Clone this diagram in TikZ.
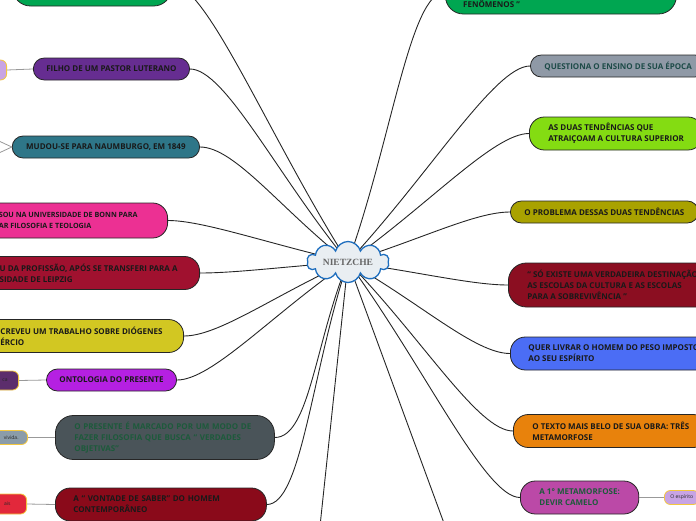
\documentclass[tikz,border=0pt]{standalone}
\usepackage{fontspec}
\setsansfont{Open Sans}
\newfontfamily\hubfont{Liberation Serif}
\usetikzlibrary{shapes.symbols,backgrounds,calc}

\definecolor{greenA}{HTML}{00A651}
\definecolor{purpleA}{HTML}{662D91}
\definecolor{tealA}{HTML}{2E7688}
\definecolor{pinkA}{HTML}{EC3093}
\definecolor{crimsonA}{HTML}{A0112F}
\definecolor{mustard}{HTML}{D2C722}
\definecolor{violetA}{HTML}{B520E2}
\definecolor{slate}{HTML}{4A5459}
\definecolor{maroon}{HTML}{8A0A1A}
\definecolor{greyA}{HTML}{8F99A6}
\definecolor{lime}{HTML}{84DC12}
\definecolor{oliveY}{HTML}{A9A200}
\definecolor{wine}{HTML}{8B0E21}
\definecolor{blueA}{HTML}{4B6DF5}
\definecolor{orangeA}{HTML}{E8820C}
\definecolor{orchidA}{HTML}{BB49A7}
\definecolor{lilac}{HTML}{C8A4E4}
\definecolor{plumA}{HTML}{5C2D6C}
\definecolor{steel}{HTML}{8B9CA9}
\definecolor{redA}{HTML}{E2283B}
\definecolor{leafrim}{HTML}{F3C740}
\definecolor{hubfill}{HTML}{E9EEF2}
\definecolor{hubrim}{HTML}{1E6EBE}
\definecolor{greenT}{HTML}{1D5A3B}
\definecolor{tealT}{HTML}{1D4B48}

\tikzset{
  topic/.style={draw=black!85, line width=0.8pt, rounded corners=11pt,
    minimum height=22pt, inner ysep=2pt, text=black!90,
    font=\sffamily\bfseries\fontsize{8}{11}\selectfont},
  twoline/.style={minimum height=33pt, rounded corners=15pt},
  threeline/.style={minimum height=44pt, rounded corners=18pt},
  topictext/.style={inner sep=0pt, text=black!90,
    font=\sffamily\bfseries\fontsize{8}{11}\selectfont},
  leaf/.style={draw=leafrim, line width=0.8pt, rounded corners=6pt,
    minimum height=14pt, inner ysep=1pt, text=black!85,
    font=\sffamily\fontsize{5}{6}\selectfont},
  leafleft/.style={leaf, anchor=east, text width=40pt, align=right},
  link/.style={draw=black!85, line width=0.9pt},
  twig/.style={draw=black!40, line width=0.8pt},
  hub/.style={cloud, cloud puffs=10, aspect=2, cloud ignores aspect,
    draw=hubrim, fill=hubfill, line width=1.3pt, minimum width=82pt,
    minimum height=41pt, text=black!60,
    font=\hubfont\bfseries\fontsize{9.5}{10}\selectfont}
}

\begin{document}
\begin{tikzpicture}[x=1pt,y=-1pt]
  \useasboundingbox (0,0) rectangle (696,520);
  \clip (0,0) rectangle (696,520);
  % centre
  \node[hub] (hub) at (348,262) {NIETZCHE};
  % left branches
  \node[topic, fill=greenA, threeline, minimum width=159pt, anchor=east] (topleft) at (172,-16) {};
  \node[topic, fill=purpleA, anchor=east, inner xsep=13pt] (filho) at (190,69) {FILHO DE UM PASTOR LUTERANO};
  \node[topic, fill=tealA, anchor=east, inner xsep=14pt] (naumburgo) at (200,147) {MUDOU-SE PARA NAUMBURGO, EM 1849};
  \node[topic, fill=pinkA, twoline, minimum height=35pt, anchor=east, inner xsep=30pt, align=left,
    font=\sffamily\bfseries\fontsize{7.2}{11}\selectfont] (bonn) at (168,220.5)
    {SOU NA UNIVERSIDADE DE BONN PARA\\AR FILOSOFIA E TEOLOGIA};
  \node[topic, fill=crimsonA, twoline, anchor=east, inner xsep=22pt, align=left] (leipzig) at (200,273)
    {U DA PROFISSÃO, APÓS SE TRANSFERI PARA A\\SIDADE DE LEIPZIG};
  \node[topic, fill=mustard, twoline, anchor=east, inner xsep=21pt, align=left] (diogenes) at (184,336)
    {CREVEU UM TRABALHO SOBRE DIÓGENES\\ÉRCIO};
  \node[topic, fill=violetA, anchor=east, inner xsep=13pt] (ontologia) at (177,380) {ONTOLOGIA DO PRESENTE};
  \node[topic, fill=slate, threeline, text=greenT, anchor=west, inner xsep=19pt, text width=181pt, align=left] (presente) at (55,437.5)
    {O PRESENTE É MARCADO POR UM MODO DE\\FAZER FILOSOFIA QUE BUSCA “ VERDADES\\OBJETIVAS”};
  \node[topic, fill=maroon, twoline, anchor=west, inner xsep=18pt, text width=175pt, align=left] (vontade) at (55,504.5)
    {A “ VONTADE DE SABER” DO HOMEM\\CONTEMPORÂNEO};
  % right branches
  \node[topic, fill=greenA, threeline, minimum width=231pt, anchor=west] (fenomenos) at (445,-8) {};
  \node[topictext, anchor=west] (fenomenosT) at (463,4) {FENÔMENOS ”};
  \node[topic, fill=greyA, text=tealT, anchor=west, inner xsep=14pt] (ensino) at (530,66) {QUESTIONA O ENSINO DE SUA ÉPOCA};
  \node[topic, fill=lime, twoline, anchor=west, inner xsep=19pt, align=left] (tendencias) at (529,133.5)
    {AS DUAS TENDÊNCIAS QUE\\ATRAIÇOAM A CULTURA SUPERIOR};
  \node[topic, fill=oliveY, anchor=west, inner xsep=14pt] (problema) at (510,212) {O PROBLEMA DESSAS DUAS TENDÊNCIAS};
  \node[topic, fill=wine, threeline, anchor=west, inner xsep=19pt, align=left] (destinacao) at (508,285)
    {“ SÓ EXISTE UMA VERDADEIRA DESTINAÇÃO\\AS ESCOLAS DA CULTURA E AS ESCOLAS\\PARA A SOBREVIVÊNCIA ”};
  \node[topic, fill=blueA, twoline, anchor=west, inner xsep=18pt, align=left] (peso) at (510,353.5)
    {QUER LIVRAR O HOMEM DO PESO IMPOSTO\\AO SEU ESPÍRITO};
  \node[topic, fill=orangeA, twoline, anchor=west, inner xsep=19pt, align=left] (metamorfoses) at (513,431)
    {O TEXTO MAIS BELO DE SUA OBRA: TRÊS\\METAMORFOSE};
  \node[topic, fill=orchidA, twoline, text=greenT, anchor=west, inner xsep=19pt, align=left] (camelo) at (520,497.5)
    {A 1° METAMORFOSE:\\DEVIR CAMELO};
  % leaves
  \node[leafleft, fill=lilac, minimum height=20pt] (filhoL) at (7,70) {};
  \node[leafleft, fill=plumA, minimum height=19pt, inner xsep=11pt] (ontologiaL) at (19,380.5) {ca};
  \node[leafleft, fill=steel, inner xsep=9pt] (presenteL) at (28,437.5) {vivida.};
  \node[leafleft, fill=redA, minimum height=20pt, inner xsep=16pt] (vontadeL) at (27,504) {ais};
  \node[leaf, fill=lilac, anchor=west, inner xsep=6pt] (cameloL) at (664,497.5) {O espírito};
  \coordinate (naumA) at (-14,135);
  \coordinate (naumB) at (-14,159);
  \coordinate (below1) at (318,545);
  \coordinate (below2) at (452,545);
  % twigs
  \draw[twig] (filhoL.east) -- (filho.west);
  \draw[twig] (ontologiaL.east) -- (ontologia.west);
  \draw[twig] (presenteL.east) -- (presente.west);
  \draw[twig] (vontadeL.east) -- (vontade.west);
  \draw[twig] (camelo.east) -- (cameloL.west);
  \draw[twig] (naumburgo.west) -- (naumA);
  \draw[twig] (naumburgo.west) -- (naumB);
  % links to the centre
  \begin{pgfonlayer}{background}
    \clip (0,0) rectangle (696,520);
    \foreach \n in {topleft,filho,naumburgo,bonn,leipzig,diogenes,ontologia,presente,vontade}
      \draw[link] (\n.east) .. controls +(35,0) and ($(hub)!0.45!(\n.east)$) .. (hub.center);
    \foreach \n in {fenomenos,ensino,tendencias,problema,destinacao,peso,metamorfoses,camelo}
      \draw[link] (\n.west) .. controls +(-35,0) and ($(hub)!0.45!(\n.west)$) .. (hub.center);
    \draw[link] (hub.center) -- (below1);
    \draw[link] (hub.center) -- (below2);
  \end{pgfonlayer}
\end{tikzpicture}
\end{document}
